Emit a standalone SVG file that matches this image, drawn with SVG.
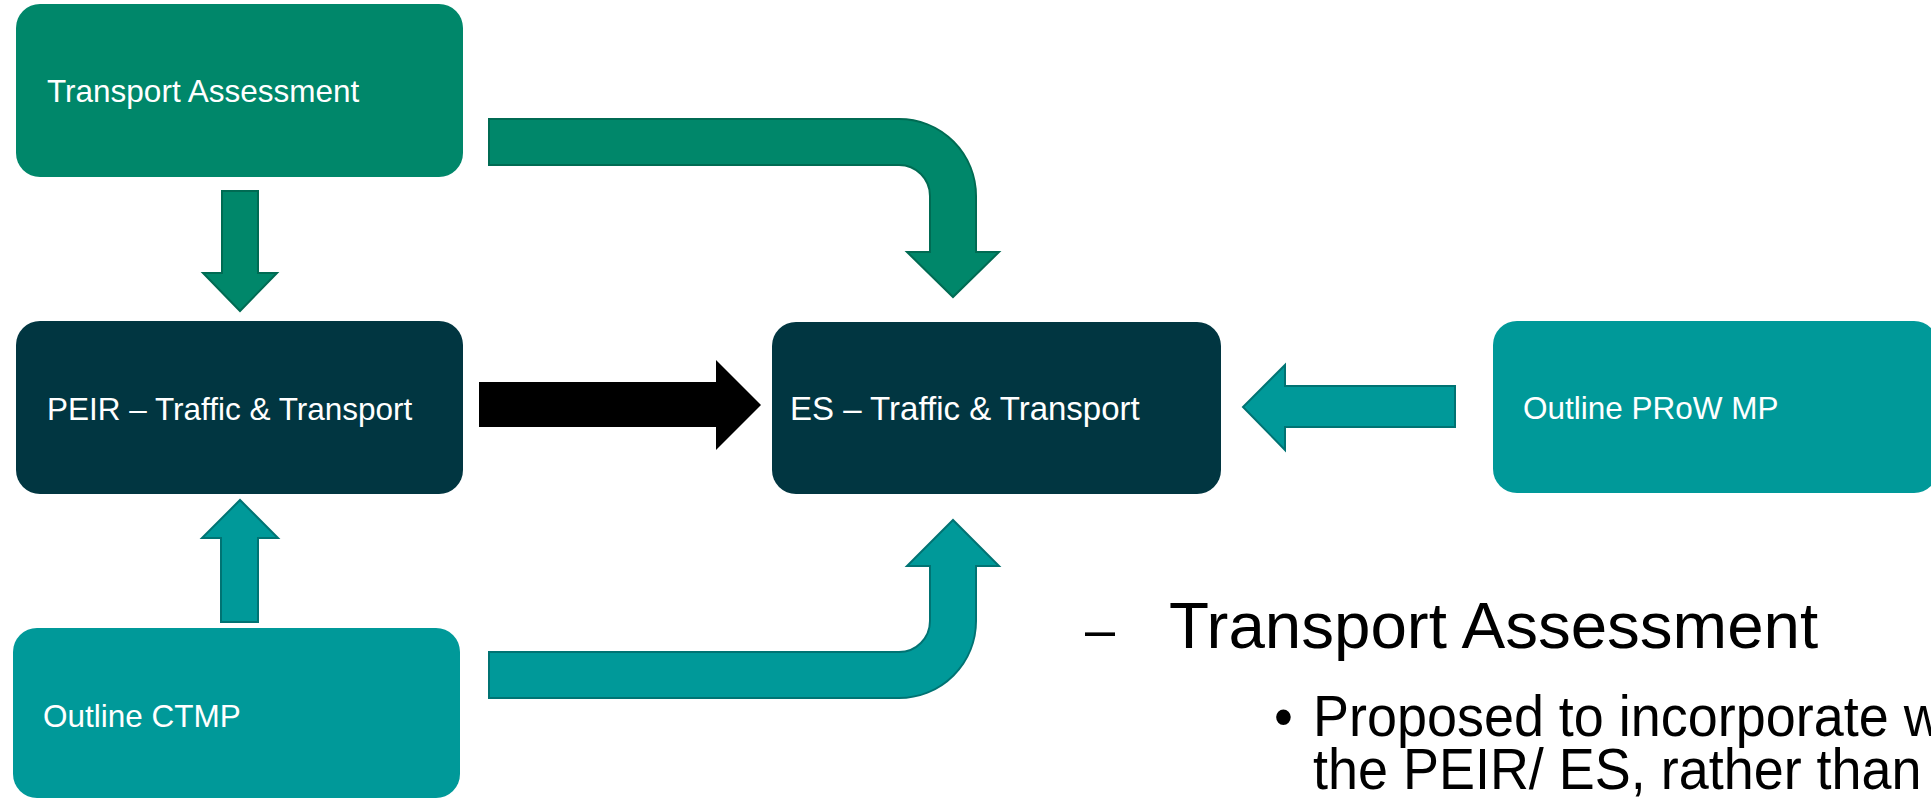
<svg xmlns="http://www.w3.org/2000/svg" width="1931" height="798" viewBox="0 0 1931 798">
  <style>
    .box-green { fill: #00876a; }
    .box-dark { fill: #013641; }
    .box-teal { fill: #009999; }
    .label { font-family: "Liberation Sans", Arial, sans-serif; font-size: 31.5px; fill: #ffffff; }
    .arr-green { fill: #00876a; stroke: #006b53; stroke-width: 2; stroke-linejoin: miter; }
    .arr-teal { fill: #009999; stroke: #007373; stroke-width: 2; stroke-linejoin: miter; }
    .arr-black { fill: #000000; }
    .body { font-family: "Liberation Sans", Arial, sans-serif; fill: #000000; }
  </style>

  <!-- connectors -->
  <g id="connectors">
    <!-- Transport Assessment -> PEIR -->
    <path class="arr-green" d="M222,191 H258 V273 H277 L240,311 L203,273 H222 Z"/>
    <!-- Transport Assessment -> ES (bent) -->
    <path class="arr-green" d="M489,119 H899 A77,77 0 0 1 976,196 V252 H999 L953,297 L907,252 H930 V196 A31,31 0 0 0 899,165 H489 Z"/>
    <!-- PEIR -> ES -->
    <path class="arr-black" d="M479,382 H716 V360 L761,405 L716,450 V427 H479 Z"/>
    <!-- Outline PRoW MP -> ES -->
    <path class="arr-teal" d="M1455,386 H1285 V365 L1243,407 L1285,450 V427 H1455 Z"/>
    <!-- Outline CTMP -> PEIR -->
    <path class="arr-teal" d="M221,622 V538 H202 L240,500 L278,538 H258 V622 Z"/>
    <!-- Outline CTMP -> ES (bent) -->
    <path class="arr-teal" d="M489,652 H899 A31,31 0 0 0 930,621 V566 H907 L953,520 L999,566 H976 V621 A77,77 0 0 1 899,698 H489 Z"/>
  </g>

  <g id="node-transport-assessment">
    <rect class="box-green" x="16" y="4" width="447" height="173" rx="24" ry="24"/>
    <text class="label" x="47" y="102">Transport Assessment</text>
  </g>

  <g id="node-peir">
    <rect class="box-dark" x="16" y="321" width="447" height="173" rx="24" ry="24"/>
    <text class="label" x="47" y="420">PEIR – Traffic &amp; Transport</text>
  </g>

  <g id="node-es">
    <rect class="box-dark" x="772" y="322" width="449" height="172" rx="24" ry="24"/>
    <text class="label" x="790" y="420" style="font-size:33px">ES – Traffic &amp; Transport</text>
  </g>

  <g id="node-prow">
    <rect class="box-teal" x="1493" y="321" width="445" height="172" rx="24" ry="24"/>
    <text class="label" x="1523" y="419">Outline PRoW MP</text>
  </g>

  <g id="node-ctmp">
    <rect class="box-teal" x="13" y="628" width="447" height="170" rx="24" ry="24"/>
    <text class="label" x="43" y="727">Outline CTMP</text>
  </g>

  <!-- bullet text -->
  <g id="notes">
    <text class="body" x="1085" y="648" style="font-size:54px">–</text>
    <text class="body" x="1169" y="648" style="font-size:65.5px">Transport Assessment</text>
    <g transform="translate(1313,0) scale(0.93,1)">
      <text class="body" x="-42" y="736" style="font-size:58px">•</text>
      <text class="body" x="0" y="736" style="font-size:58px">Proposed to incorporate w</text>
      <text class="body" x="0" y="789" style="font-size:58px">the PEIR/ ES, rather than</text>
    </g>
  </g>
</svg>
